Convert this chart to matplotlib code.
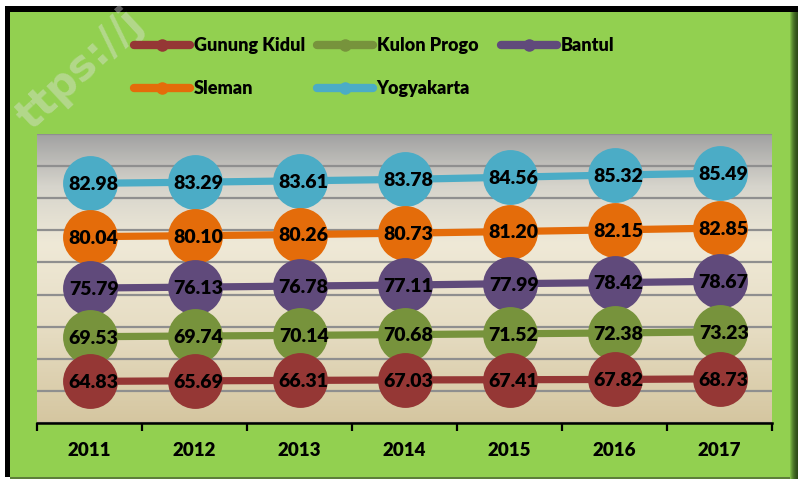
import numpy as np
import matplotlib
matplotlib.use("Agg")
import matplotlib.pyplot as plt
from matplotlib.patches import Rectangle
from matplotlib.lines import Line2D
from matplotlib.colors import LinearSegmentedColormap

plt.rcParams['font.family'] = ['Lato', 'DejaVu Sans']

years = ['2011', '2012', '2013', '2014', '2015', '2016', '2017']
gunung_kidul = [64.83, 65.69, 66.31, 67.03, 67.41, 67.82, 68.73]
kulon_progo = [69.53, 69.74, 70.14, 70.68, 71.52, 72.38, 73.23]
bantul = [75.79, 76.13, 76.78, 77.11, 77.99, 78.42, 78.67]
sleman = [80.04, 80.10, 80.26, 80.73, 81.20, 82.15, 82.85]
yogyakarta = [82.98, 83.29, 83.61, 83.78, 84.56, 85.32, 85.49]

series_names = ['Gunung Kidul', 'Kulon Progo', 'Bantul', 'Sleman', 'Yogyakarta']
series_values = [gunung_kidul, kulon_progo, bantul, sleman, yogyakarta]
series_colors = ['#953735', '#77933C', '#604A7B', '#E46C0A', '#4BACC6']

W, H = 798, 479
fig = plt.figure(figsize=(W / 100, H / 100), dpi=100)
fig.patch.set_facecolor('white')


def fx(x):
    return x / W


def fy(y):
    return 1 - y / H


def frame_rect(x0, y0, x1, y1, color):
    fig.patches.append(Rectangle((fx(x0), fy(y1)), fx(x1) - fx(x0), fy(y0) - fy(y1),
                                 transform=fig.transFigure, facecolor=color,
                                 edgecolor='none', zorder=-5))


# green chart frame with dark borders and right-hand shadow
frame_rect(10, 11, 790, 477, '#92D050')
frame_rect(5, 6, 798, 11.5, '#000000')
frame_rect(5, 6, 10, 477, '#000000')
shadow = ['#7cb846', '#6a9f3a', '#5a8a31', '#4d7829', '#426a23', '#3a5e1f', '#33541b', '#2e4c18']
for k, c in enumerate(shadow):
    frame_rect(790 + k, 11.5, 791 + k, 479, c)
frame_rect(10, 477, 790, 479, '#5d7f3a')

ax = fig.add_axes([fx(37), fy(423), fx(772) - fx(37), fy(134) - fy(423)])
ax.set_zorder(2)
ax.set_facecolor('none')

# faint site watermark
fig.text(fx(80), fy(70), 'ttps://j', rotation=43, rotation_mode='anchor',
         ha='center', va='center', fontsize=30, fontweight='bold',
         family='DejaVu Sans', color='#e4e4e4', alpha=0.4, zorder=3)

# plot-area gradient: grey at the top, cream in the middle, tan at the bottom
grad = LinearSegmentedColormap.from_list(
    'bg', [(0.0, '#d5c6a0'), (0.35, '#e7dec5'), (0.62, '#efe9d7'),
           (0.82, '#d6d4cc'), (1.0, '#a2a2a2')])
ax.imshow(np.linspace(0, 1, 256).reshape(-1, 1), cmap=grad, origin='lower',
          extent=(-0.5, 6.5, 0, 450), aspect='auto', zorder=0)

x = np.arange(len(years))
stacked = np.cumsum(np.array(series_values), axis=0)

for i in range(len(series_names)):
    z = 10 - i
    ax.plot(x, stacked[i], color=series_colors[i], lw=5.2, solid_capstyle='butt',
            marker='o', markersize=39.5, markeredgewidth=0, zorder=z)

for i, vals in enumerate(series_values):
    for j, v in enumerate(vals):
        ax.annotate(f'{v:.2f}', (x[j], stacked[i][j]), xytext=(3, -1),
                    textcoords='offset points', ha='center', va='center',
                    fontsize=14, fontweight='heavy', color='black', zorder=20)

ax.set_xlim(-0.5, 6.5)
ax.set_ylim(0, 450)
ax.set_yticks(np.arange(0, 451, 50))
ax.set_yticklabels([])
ax.tick_params(axis='y', length=0)
ax.yaxis.grid(True, color='#8f8f8f', lw=1.6, zorder=1)
ax.set_axisbelow(True)

ax.set_xticks(np.arange(-0.5, 7, 1))
ax.set_xticklabels([])
ax.tick_params(axis='x', which='major', direction='out', length=5.5, width=1.6, color='black')
ax.set_xticks(x, minor=True)
ax.set_xticklabels(years, minor=True, fontsize=13.5, fontweight='heavy')
ax.tick_params(axis='x', which='minor', length=0, pad=14)

for side in ['left', 'right', 'top']:
    ax.spines[side].set_visible(False)
ax.spines['bottom'].set_color('black')
ax.spines['bottom'].set_linewidth(1.8)
ax.spines['bottom'].set_zorder(30)

# legend laid out as equal-width columns, filled row by row
handles = [Line2D([], [], color=c, lw=6, solid_capstyle='round', marker='o',
                  markersize=9, markeredgewidth=0) for c in series_colors]
columns = [[0, 3], [1, 4], [2]]
column_x = [134, 317, 501]
for idx, cx in zip(columns, column_x):
    leg = fig.legend([handles[k] for k in idx], [series_names[k] for k in idx],
                     ncol=1, loc='upper left', bbox_to_anchor=(fx(cx), fy(37)),
                     frameon=False, borderpad=0, borderaxespad=0,
                     handlelength=3.1, handletextpad=0.2,
                     labelspacing=1.45, prop={'weight': 'heavy', 'size': 13})
    leg.set_zorder(4)

fig.savefig('out.png', dpi=100, facecolor=fig.get_facecolor())
